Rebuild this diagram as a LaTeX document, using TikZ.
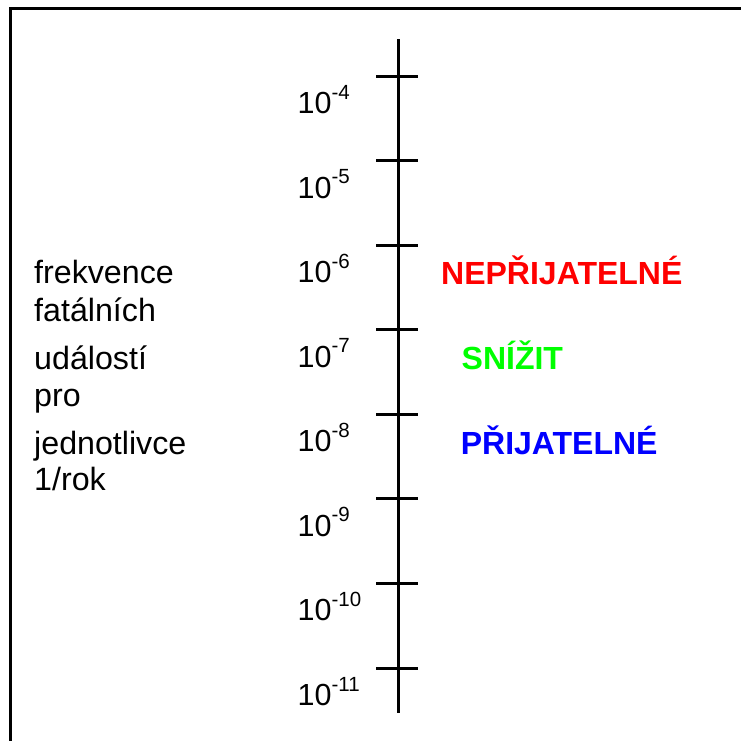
\documentclass[tikz,border=0pt]{standalone}
\usepackage{fontspec}
\setmainfont{Liberation Sans}
\begin{document}
\begin{tikzpicture}[x=1pt,y=-1pt,
  ax/.style={line width=3pt},
  lbl/.style={anchor=base west,inner sep=0pt,font=\fontsize{30.5}{30.5}\selectfont},
  side/.style={anchor=base west,inner sep=0pt,font=\fontsize{32.2}{32.2}\selectfont},
  verdict/.style={anchor=base west,inner sep=0pt,font=\fontsize{32}{32}\selectfont\bfseries}]
\useasboundingbox (0,0) rectangle (741,740);
\clip (0,0) rectangle (741,740);
\draw[line width=3pt] (10.5,760) -- (10.5,8) -- (760,8);
\coordinate (top) at (398,39);
\coordinate (bot) at (398,713);
\draw[ax] (top) -- (bot);
\foreach \i/\e in {0/4,1/5,2/6,3/7,4/8,5/9,6/10,7/11} {
  \pgfmathsetmacro\yy{76+84.57*\i}
  \coordinate (t\i) at (398,\yy);
  \draw[ax] ([xshift=-22pt]t\i) -- ([xshift=20pt]t\i);
  \node[lbl] (l\i) at (297.5,\yy+37.5) {10\raisebox{14.5pt}{\fontsize{20.5}{20.5}\selectfont -\e}};
}
\node[side] (s1) at (34,283.3) {frekvence};
\node[side] (s2) at (34,321.5) {fatálních};
\node[side] (s3) at (34,369.3) {událostí};
\node[side] (s4) at (34,406.7) {pro};
\node[side] (s5) at (34,454) {jednotlivce};
\node[side] (s6) at (34,490.7) {1/rok};
\node[verdict,text={rgb,255:red,255;green,0;blue,0}] (v1) at (441,284.3) {NEPŘIJATELNÉ};
\node[verdict,text={rgb,255:red,0;green,255;blue,0}] (v2) at (461.5,369.3) {SNÍŽIT};
\node[verdict,text={rgb,255:red,0;green,0;blue,255}] (v3) at (460.6,454) {PŘIJATELNÉ};
\end{tikzpicture}
\end{document}
